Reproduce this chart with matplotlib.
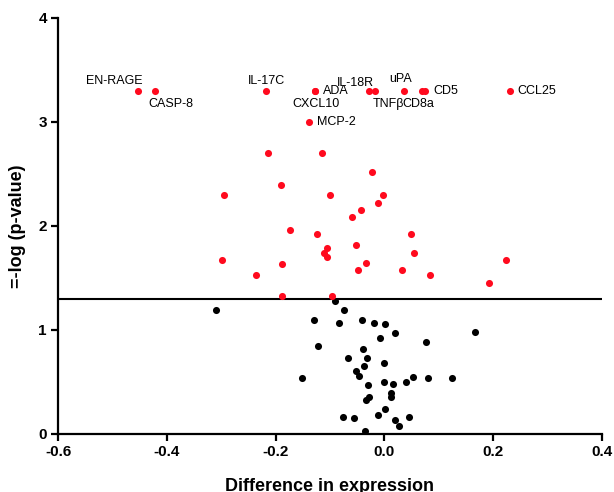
import matplotlib
matplotlib.use("Agg")
import matplotlib.pyplot as plt

plt.rcParams["font.family"] = ["Liberation Sans", "DejaVu Sans"]

# significant proteins with labels (difference, -log p)
label_names = ["EN-RAGE", "CASP-8", "IL-17C", "ADA", "CXCL10", "MCP-2",
               "IL-18R", "TNFβ", "uPA", "CD8a", "CD5", "CCL25"]
label_x = [-0.452, -0.422, -0.218, -0.128, -0.128, -0.138,
           -0.028, -0.017, 0.037, 0.070, 0.075, 0.231]
label_y = [3.30, 3.30, 3.30, 3.30, 3.30, 3.00,
           3.30, 3.30, 3.30, 3.30, 3.30, 3.30]

# other significant proteins (red, unlabelled)
sig_x = [-0.213, -0.114, -0.190, -0.294, -0.100, -0.173, -0.123, -0.106,
         -0.110, -0.106, -0.299, -0.188, -0.236, -0.188, -0.096,
         -0.022, -0.002, -0.011, -0.043, -0.059, 0.050, -0.052, 0.055,
         -0.033, -0.048, 0.032, 0.084, 0.224, 0.193]
sig_y = [2.70, 2.70, 2.39, 2.30, 2.30, 1.96, 1.92, 1.79,
         1.74, 1.70, 1.67, 1.63, 1.53, 1.33, 1.33,
         2.52, 2.30, 2.22, 2.15, 2.09, 1.92, 1.82, 1.74,
         1.64, 1.58, 1.58, 1.53, 1.67, 1.45]

# non-significant proteins (black)
ns_x = [-0.310, -0.091, -0.074, -0.129, -0.083, -0.041, -0.019, 0.001,
        0.020, 0.167, -0.007, 0.077, -0.121, -0.039, -0.067, -0.031,
        -0.001, -0.038, -0.052, -0.047, 0.052, 0.081, 0.125, -0.151,
        0.040, -0.001, 0.017, -0.030, 0.012, 0.013, -0.028, -0.033,
        0.002, -0.012, -0.075, -0.056, 0.019, 0.045, 0.028, -0.036]
ns_y = [1.19, 1.28, 1.19, 1.10, 1.07, 1.10, 1.07, 1.06,
        0.97, 0.98, 0.92, 0.88, 0.85, 0.82, 0.73, 0.73,
        0.68, 0.65, 0.61, 0.56, 0.55, 0.54, 0.54, 0.54,
        0.50, 0.50, 0.48, 0.47, 0.39, 0.36, 0.36, 0.33,
        0.24, 0.18, 0.16, 0.15, 0.13, 0.16, 0.08, 0.03]

threshold = 1.3  # -log10(0.05)

x_ticks = [-0.6, -0.4, -0.2, 0.0, 0.2, 0.4]
y_ticks = [0, 1, 2, 3, 4]

# label placement: (dx, dy) in pixels, horizontal alignment
label_pos = {
    "EN-RAGE": (4, 10, "right"), "CASP-8": (-6, -13, "left"),
    "IL-17C": (1, 10, "center"), "ADA": (8, 0, "left"),
    "CXCL10": (1, -13, "center"), "MCP-2": (8, 0, "left"),
    "IL-18R": (-14, 8, "center"), "TNFβ": (-2, -13, "left"),
    "uPA": (-4, 12, "center"), "CD8a": (-20, -13, "left"),
    "CD5": (8, 0, "left"), "CCL25": (8, 0, "left"),
}

RED = "#ff0a1e"

fig = plt.figure(figsize=(6.14, 4.92), dpi=100)
ax = fig.add_axes([0.0945, 0.118, 0.8855, 0.8455])

ax.axhline(threshold, color="black", lw=1.5, zorder=1)
ax.scatter(ns_x, ns_y, s=26, c="black", linewidths=0, zorder=3)
ax.scatter(sig_x, sig_y, s=26, c=RED, linewidths=0, zorder=3)
ax.scatter(label_x, label_y, s=26, c=RED, linewidths=0, zorder=3)

for name, x, y in zip(label_names, label_x, label_y):
    dx, dy, ha = label_pos[name]
    ax.annotate(name, (x, y), xytext=(dx, dy), textcoords="offset pixels",
                ha=ha, va="center", fontsize=9)

ax.set_xlim(-0.6, 0.4)
ax.set_ylim(0, 4)
ax.set_xticks(x_ticks)
ax.set_yticks(y_ticks)
ax.set_xticklabels([f"{t:.1f}" for t in x_ticks], fontweight="bold", fontsize=11)
ax.set_yticklabels([str(t) for t in y_ticks], fontweight="bold", fontsize=11)

for side in ("top", "right"):
    ax.spines[side].set_visible(False)
for side in ("left", "bottom"):
    ax.spines[side].set_linewidth(1.6)
ax.tick_params(width=1.6, length=5, direction="out", pad=3)

ax.set_xlabel("Difference in expression", fontweight="bold", fontsize=13, labelpad=14)
ax.set_ylabel("=-log (p-value)", fontweight="bold", fontsize=13, labelpad=9)

fig.savefig("out.png", dpi=100)
